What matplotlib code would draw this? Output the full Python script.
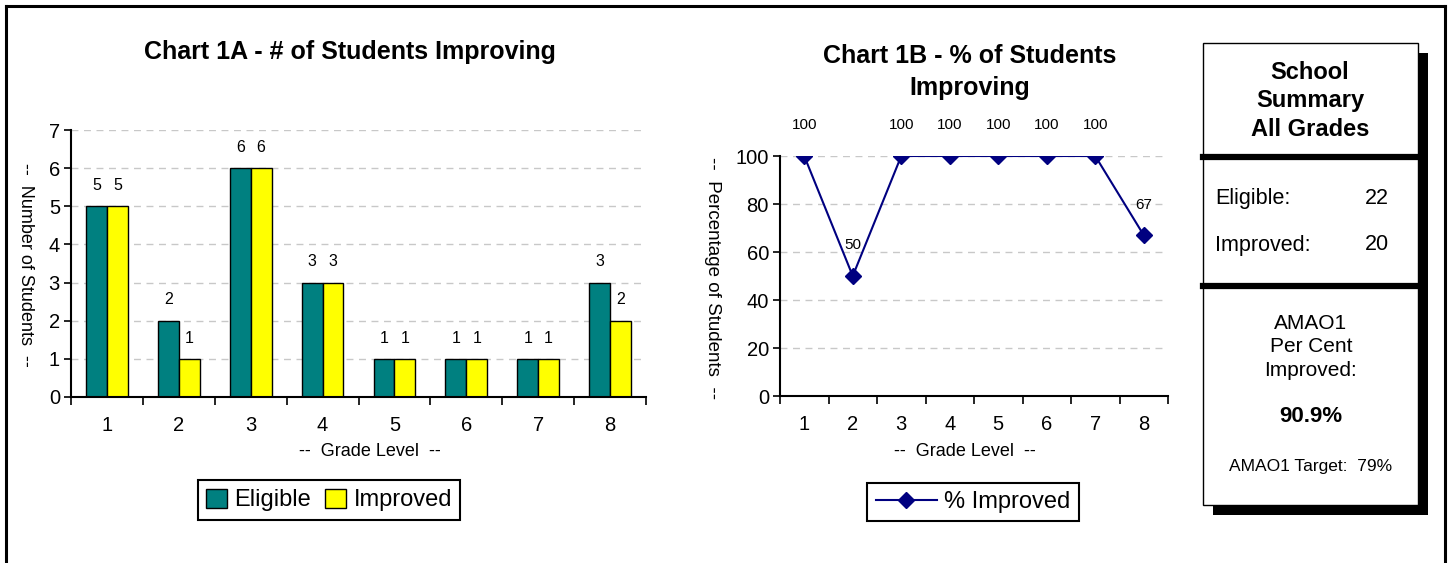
import matplotlib.pyplot as plt
from matplotlib.patches import Rectangle
from matplotlib.lines import Line2D

plt.rcParams['font.family'] = ['Liberation Sans', 'DejaVu Sans']

# data
grades = [1, 2, 3, 4, 5, 6, 7, 8]
eligible = [5, 2, 6, 3, 1, 1, 1, 3]
improved = [5, 1, 6, 3, 1, 1, 1, 2]
pct_improved = [100, 50, 100, 100, 100, 100, 100, 67]

total_eligible = 22
total_improved = 20
amao1_pct = '90.9%'
amao1_target = '79%'

W, H = 1449, 563
fig = plt.figure(figsize=(W / 100, H / 100), dpi=100)


def px_box(x0, y0, x1, y1):
    # pixel box (top-left origin) -> figure rect
    return [x0 / W, 1 - y1 / H, (x1 - x0) / W, (y1 - y0) / H]


def fx(x):
    return x / W


def fy(y):
    return 1 - y / H


grid_kw = dict(linestyle=(0, (5, 4)), color='#c8c8c8', linewidth=1)


def style_axis(ax):
    ax.spines['top'].set_visible(False)
    ax.spines['right'].set_visible(False)
    ax.set_xlim(0.5, 8.5)
    ax.set_xticks([g + 0.5 for g in [0] + grades])
    ax.set_xticklabels([])
    ax.set_xticks(grades, minor=True)
    ax.set_xticklabels([str(g) for g in grades], minor=True, fontsize=14.5)
    ax.tick_params(axis='x', which='major', length=6, width=1.2)
    ax.tick_params(axis='x', which='minor', length=0, pad=14)
    ax.tick_params(axis='y', length=5, width=1.2, labelsize=14.5, pad=3)
    ax.yaxis.grid(True, **grid_kw)
    ax.set_axisbelow(True)
    for s in ['left', 'bottom']:
        ax.spines[s].set_linewidth(1.5)


# ---- Chart 1A
ax1 = fig.add_axes(px_box(71, 130, 646, 397))
w = 0.29
b1 = ax1.bar([g - w / 2 for g in grades], eligible, w, color='#008080',
             edgecolor='black', linewidth=1, label='Eligible')
b2 = ax1.bar([g + w / 2 for g in grades], improved, w, color='#ffff00',
             edgecolor='black', linewidth=1, label='Improved')
for bars, vals in [(b1, eligible), (b2, improved)]:
    for bar, v in zip(bars, vals):
        ax1.annotate(str(v), (bar.get_x() + bar.get_width() / 2, v),
                     xytext=(0, 15), textcoords='offset points',
                     ha='center', va='center', fontsize=11.5)
ax1.set_ylim(0, 7)
ax1.set_yticks(range(0, 8))
style_axis(ax1)

fig.text(fx(350), fy(52), 'Chart 1A - # of Students Improving',
         ha='center', va='center', fontsize=18, fontweight='bold')
fig.text(fx(25), fy(265), '--  Number of Students  --', rotation=270,
         ha='center', va='center', fontsize=13)
fig.text(fx(370), fy(451), '--  Grade Level  --',
         ha='center', va='center', fontsize=13)

leg1 = fig.legend([b1, b2], ['Eligible', 'Improved'], loc='center',
                  bbox_to_anchor=(fx(329), fy(500)), ncol=2, fontsize=17,
                  fancybox=False, edgecolor='black', framealpha=1,
                  handlelength=0.9, handleheight=0.9, handletextpad=0.3,
                  columnspacing=0.6, borderpad=0.35)
leg1.get_frame().set_linewidth(1.5)

# ---- Chart 1B
ax2 = fig.add_axes(px_box(780, 156, 1168, 396))
line, = ax2.plot(grades, pct_improved, color='#000080', marker='D',
                 markersize=8, linewidth=1.5)
for g, v in zip(grades, pct_improved):
    ax2.annotate(str(v), (g, v), xytext=(0, 22), textcoords='offset points',
                 ha='center', va='center', fontsize=11)
ax2.set_ylim(0, 100)
ax2.set_yticks(range(0, 101, 20))
style_axis(ax2)

fig.text(fx(970), fy(72), 'Chart 1B - % of Students\nImproving',
         ha='center', va='center', fontsize=18, fontweight='bold',
         linespacing=1.45)
fig.text(fx(712), fy(278), '--  Percentage of Students  --', rotation=270,
         ha='center', va='center', fontsize=13.5)
fig.text(fx(965), fy(451), '--  Grade Level  --',
         ha='center', va='center', fontsize=13)

leg2 = fig.legend([line], ['% Improved'], loc='center',
                  bbox_to_anchor=(fx(973), fy(502)), fontsize=17,
                  fancybox=False, edgecolor='black', framealpha=1,
                  handlelength=2.6, handletextpad=0.3, borderpad=0.35)
leg2.get_frame().set_linewidth(1.5)

# ---- summary box
fig.add_artist(Rectangle((fx(1213), fy(515)), (1428 - 1213) / W,
                         (515 - 53) / H, transform=fig.transFigure,
                         facecolor='black', edgecolor='none'))
fig.add_artist(Rectangle((fx(1203), fy(505)), (1418 - 1203) / W,
                         (505 - 43) / H, transform=fig.transFigure,
                         facecolor='white', edgecolor='black', linewidth=1))
for yy in [157, 286]:
    fig.add_artist(Line2D([fx(1203), fx(1418)], [fy(yy), fy(yy)],
                          transform=fig.transFigure, color='black', lw=4.5))

fig.text(fx(1310), fy(101), 'School\nSummary\nAll Grades', ha='center',
         va='center', fontsize=17, fontweight='bold', linespacing=1.3)
fig.text(fx(1215), fy(198), 'Eligible:', ha='left', va='center', fontsize=15.5)
fig.text(fx(1389), fy(198), str(total_eligible), ha='right', va='center',
         fontsize=15.5)
fig.text(fx(1215), fy(245), 'Improved:', ha='left', va='center', fontsize=15.5)
fig.text(fx(1389), fy(245), str(total_improved), ha='right', va='center',
         fontsize=15.5)
fig.text(fx(1311), fy(347), 'AMAO1\nPer Cent\nImproved:', ha='center',
         va='center', fontsize=15, linespacing=1.3)
fig.text(fx(1311), fy(416), amao1_pct, ha='center', va='center',
         fontsize=16, fontweight='bold')
fig.text(fx(1311), fy(467), 'AMAO1 Target:  ' + amao1_target, ha='center',
         va='center', fontsize=12.5)

# ---- outer frame
for xs, ys in [([6, 6], [563, 6]), ([6, 1445], [6, 6]),
               ([1445, 1445], [6, 563])]:
    fig.add_artist(Line2D([fx(x) for x in xs], [fy(y) for y in ys],
                          transform=fig.transFigure, color='black', lw=2.2))

fig.savefig('out.png', dpi=100)
